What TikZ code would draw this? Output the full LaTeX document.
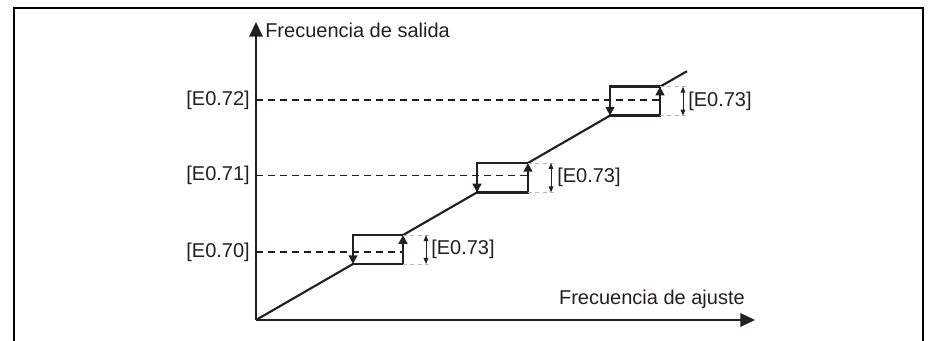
\documentclass[tikz,border=0pt]{standalone}
\usepackage{fontspec}
\setmainfont{Liberation Sans}
\usetikzlibrary{arrows.meta,calc}
\definecolor{ink}{HTML}{231F20}
\begin{document}
\begin{tikzpicture}[x=0.75pt,y=-0.75pt,
  lbl/.style={font=\fontsize{15}{18}\selectfont, inner sep=0pt, text=ink},
  axis/.style={draw=ink, line width=1.6pt, -{Triangle[length=11pt,width=10pt]}},
  frame/.style={draw=black, line width=2.2pt},
  ramp/.style={draw=ink, line width=1.6pt},
  edge/.style={draw=ink, line width=2.1pt, line cap=rect},
  flow/.style={draw=ink, line width=2.1pt, -{Triangle[length=6.5pt,width=6.5pt]}},
  lvl/.style={draw=ink, line width=0.8pt, dash pattern=on 5.25pt off 3.75pt},
  ext/.style={draw=gray!55, line width=0.6pt, dash pattern=on 3pt off 2.5pt},
  dim/.style={draw=ink, line width=0.7pt, {Triangle[length=4.5pt,width=3.5pt]}-{Triangle[length=4.5pt,width=3.5pt]}},
]
\useasboundingbox (0,0) rectangle (933,341);
% frame (open at bottom)
\draw[frame] (14,345) -- (14,8) -- (923,8) -- (923,345);

% named points
\coordinate (O) at (256,320);
\coordinate (Ytip) at (256,22);
\coordinate (Xtip) at (755,320);
\coordinate (End) at (687,71.2);
\coordinate (a1) at (353,264);   \coordinate (b1) at (403,235.1);
\coordinate (a2) at (477,192.4); \coordinate (b2) at (528,163);
\coordinate (a3) at (610,115.6); \coordinate (b3) at (660,86.7);

% labels
\node[lbl, anchor=base west] (ylab) at (265,38) {Frecuencia de salida};
\node[lbl, anchor=base east] (xlab) at (745,305) {Frecuencia de ajuste};
\node[lbl, anchor=east] (L0) at (250,252) {[E0.70]};
\node[lbl, anchor=east] (L1) at (250,175.5) {[E0.71]};
\node[lbl, anchor=east] (L2) at (250,100) {[E0.72]};
\node[lbl, anchor=west] (R1) at (431,249.5) {[E0.73]};
\node[lbl, anchor=west] (R2) at (557,177.7) {[E0.73]};
\node[lbl, anchor=west] (R3) at (688,101.2) {[E0.73]};

% level lines
\coordinate (l0) at (256,252);   \coordinate (m0) at (b1 |- l0);
\coordinate (l1) at (256,175.5); \coordinate (m1) at (b2 |- l1);
\coordinate (l2) at (256,100);   \coordinate (m2) at (b3 |- l2);
\draw[lvl] (l0) -- (m0);
\draw[lvl] (l1) -- (m1);
\draw[lvl] (l2) -- (m2);

% ramp
\draw[ramp] (O) -- (a1);
\draw[ramp] (b1) -- (a2);
\draw[ramp] (b2) -- (a3);
\draw[ramp] (b3) -- (End);

% hysteresis boxes and dimensions
\foreach \i in {1,2,3}{
  \coordinate (tl\i) at (a\i |- b\i);
  \coordinate (br\i) at (b\i |- a\i);
  \draw[edge] (tl\i) -- (b\i);
  \draw[edge] (a\i) -- (br\i);
  \draw[flow] (tl\i) -- (a\i);
  \draw[flow] (br\i) -- (b\i);
  \draw[ext] (b\i) -- ++(27,0) coordinate (e\i);
  \draw[ext] (br\i) -- ++(27,0) coordinate (f\i);
  \draw[dim] ($(b\i)+(23,0)$) -- ($(br\i)+(23,0)$);
}

% axes
\draw[axis] (O) -- (Ytip);
\draw[axis] (O) -- (Xtip);
\end{tikzpicture}
\end{document}
